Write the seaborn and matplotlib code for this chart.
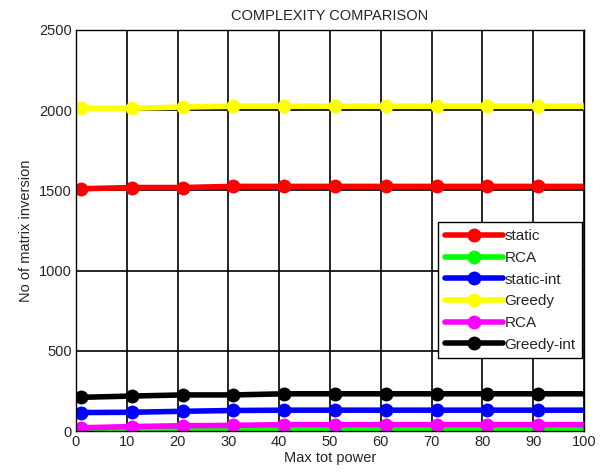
import numpy as np
import pandas as pd
import matplotlib
matplotlib.use("Agg")
import matplotlib.pyplot as plt
import seaborn as sns

# Data
power = [1, 11, 21, 31, 41, 51, 61, 71, 81, 91, 101]
static = [1510, 1518, 1518, 1525, 1525, 1525, 1525, 1525, 1525, 1525, 1525]
rca = [5, 8, 10, 12, 14, 14, 14, 14, 14, 14, 14]
static_int = [115, 117, 123, 128, 130, 130, 130, 130, 130, 130, 130]
greedy = [2012, 2012, 2020, 2025, 2025, 2025, 2025, 2025, 2025, 2025, 2025]
rca2 = [20, 28, 33, 35, 40, 40, 40, 40, 40, 40, 40]
greedy_int = [210, 218, 225, 225, 232, 232, 232, 232, 232, 232, 232]

series = [
    ("static", static, "#ff0000"),
    ("RCA", rca, "#00ff00"),
    ("static-int", static_int, "#0000ff"),
    ("Greedy", greedy, "#ffff00"),
    ("RCA", rca2, "#ff00ff"),
    ("Greedy-int", greedy_int, "#000000"),
]

sns.set_style("white")
plt.rcParams["font.family"] = ["Liberation Sans", "DejaVu Sans"]

fig = plt.figure(figsize=(6.06, 4.76), dpi=100)
ax = fig.add_axes([0.1254, 0.0945, 0.8383, 0.8425])

for name, vals, col in series:
    df = pd.DataFrame({"power": power, "value": vals})
    sns.lineplot(data=df, x="power", y="value", ax=ax, color=col, label=name,
                 linewidth=4, marker="o", markersize=10, markeredgewidth=0)

ax.set_xlim(0, 100)
ax.set_ylim(0, 2500)
ax.set_xticks(np.arange(0, 101, 10))
ax.set_yticks(np.arange(0, 2501, 500))
ax.grid(True, color="black", linewidth=1.2, linestyle="-")
ax.set_axisbelow(True)
for s in ax.spines.values():
    s.set_color("black")
    s.set_linewidth(1)
ax.tick_params(labelsize=10.5, length=0, pad=3)

ax.set_title("COMPLEXITY COMPARISON", fontsize=10.5, pad=7)
ax.set_xlabel("Max tot power", fontsize=10.5, labelpad=1)
ax.set_ylabel("No of matrix inversion", fontsize=10.5, labelpad=4)

leg = ax.legend(loc="upper right", bbox_to_anchor=(0.997, 0.52), borderaxespad=0,
                fontsize=11, frameon=True, fancybox=False, edgecolor="black",
                handlelength=3.8, handletextpad=0.1, labelspacing=0.5,
                borderpad=0.45)
leg.get_frame().set_linewidth(1)
leg.get_frame().set_alpha(1)

fig.savefig("out.png", dpi=100)
